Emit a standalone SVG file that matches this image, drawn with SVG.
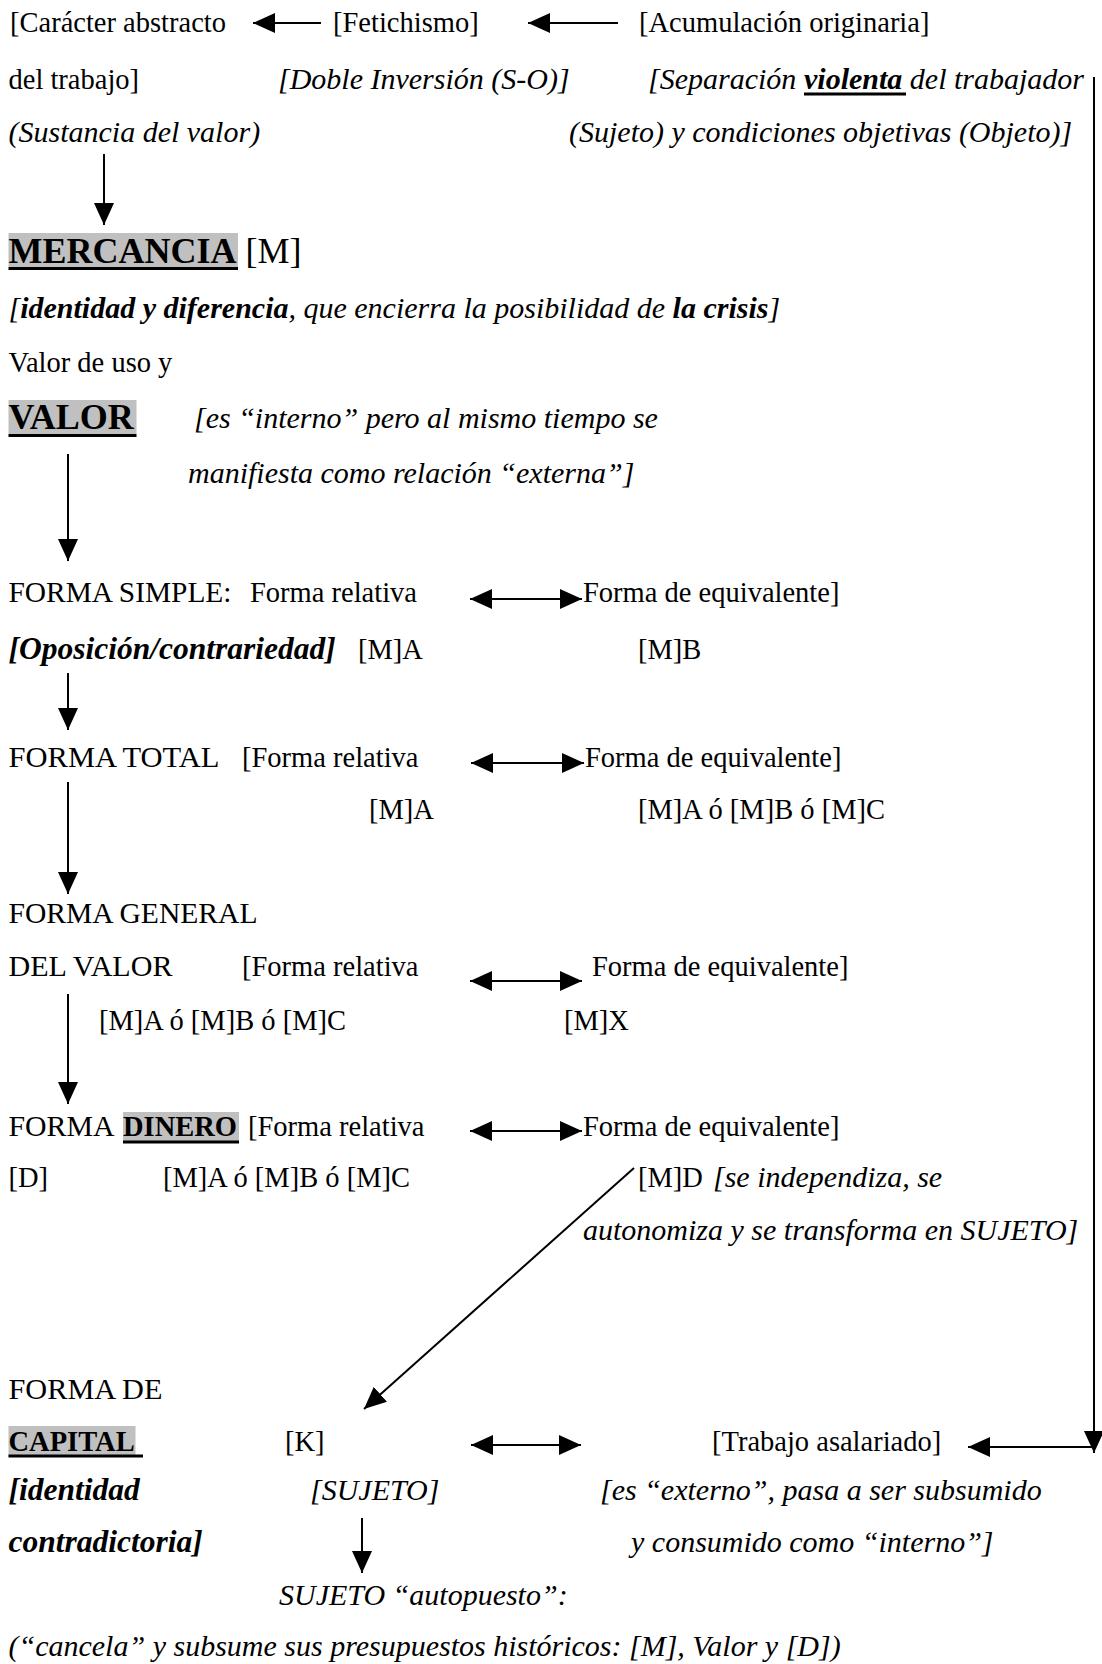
<svg xmlns="http://www.w3.org/2000/svg" width="1102" height="1664" viewBox="0 0 1102 1664">
<style>
text { font-family: "Liberation Serif", "Times New Roman", serif; font-size: 28.5px; fill: #000; }
.i { font-style: italic; font-size: 30px; }
.b { font-weight: bold; }
.i.b { font-size: 31.5px; }
.big { font-size: 36px; }
.hl { fill: #c0c0c0; }
.ul { stroke: #000; stroke-width: 3; }
.c { stroke: #000; stroke-width: 2; fill: none; }
.a { marker-end: url(#ah); }
.d { marker-start: url(#ah); marker-end: url(#ah); }
</style>
<defs>
<marker id="ah" viewBox="0 0 22 20" refX="22" refY="10" markerWidth="22" markerHeight="20" markerUnits="userSpaceOnUse" orient="auto-start-reverse">
<path d="M0,0 L22,10 L0,20 z" fill="#000"/>
</marker>
</defs>
<rect width="1102" height="1664" fill="#fff"/>

<g id="connectors">
<line class="c a" x1="321" y1="23" x2="253" y2="23"/>
<line class="c a" x1="618" y1="23" x2="528" y2="23"/>
<line class="c a" x1="1094" y1="77" x2="1094" y2="1453"/>
<line class="c a" x1="1094" y1="1447" x2="968" y2="1447"/>
<line class="c a" x1="104" y1="154" x2="104" y2="225"/>
<line class="c a" x1="68" y1="454" x2="68" y2="561"/>
<line class="c d" x1="470" y1="599" x2="582" y2="599"/>
<line class="c a" x1="68" y1="673" x2="68" y2="730"/>
<line class="c d" x1="471" y1="763" x2="584" y2="763"/>
<line class="c a" x1="68" y1="782" x2="68" y2="894"/>
<line class="c d" x1="470" y1="981" x2="582" y2="981"/>
<line class="c a" x1="68" y1="994" x2="68" y2="1104"/>
<line class="c d" x1="470" y1="1131" x2="582" y2="1131"/>
<line class="c a" x1="634" y1="1168" x2="364" y2="1409"/>
<line class="c d" x1="471" y1="1445" x2="581" y2="1445"/>
<line class="c a" x1="362" y1="1518" x2="362" y2="1573"/>
</g>

<g id="caracter-abstracto">
<text x="10" y="32">[Carácter abstracto</text>
<text x="8.5" y="89">del trabajo]</text>
<text class="i" x="8.5" y="142">(Sustancia del valor)</text>
</g>
<g id="fetichismo">
<text x="333" y="32">[Fetichismo]</text>
<text class="i" x="278" y="89">[Doble Inversión (S-O)]</text>
</g>
<g id="acumulacion">
<text x="639" y="32">[Acumulación originaria]</text>
<text class="i" x="648" y="89">[Separación <tspan class="b" x="804">violenta</tspan> del trabajador</text>
<line class="ul" x1="804" y1="94" x2="906" y2="94"/>
<text class="i" x="569" y="142">(Sujeto) y condiciones objetivas (Objeto)]</text>
</g>

<g id="mercancia">
<rect class="hl" x="8.5" y="233" width="229.5" height="34"/>
<line class="ul" x1="8.5" y1="268.5" x2="238" y2="268.5"/>
<text class="big" x="8.5" y="263"><tspan class="b">MERCANCIA</tspan> [M]</text>
<text class="i" x="8.5" y="318">[<tspan class="b">identidad y diferencia</tspan>, que encierra la posibilidad de <tspan class="b">la crisis</tspan>]</text>
<text x="8.5" y="372">Valor de uso y</text>
</g>

<g id="valor">
<rect class="hl" x="8.5" y="400" width="128" height="34"/>
<line class="ul" x1="8.5" y1="435.5" x2="136.5" y2="435.5"/>
<text class="big b" x="8.5" y="429">VALOR</text>
<text class="i" x="194" y="428">[es “interno” pero al mismo tiempo se</text>
<text class="i" x="188" y="483">manifiesta como relación “externa”]</text>
</g>

<g id="forma-simple">
<text x="8.5" y="602" textLength="223" lengthAdjust="spacingAndGlyphs">FORMA SIMPLE:</text>
<text x="250" y="602">Forma relativa</text>
<text x="583" y="602">Forma de equivalente]</text>
<text class="i b" x="8.5" y="659">[Oposición/contrariedad]</text>
<text x="358" y="659">[M]A</text>
<text x="638" y="659">[M]B</text>
</g>

<g id="forma-total">
<text x="8.5" y="767" textLength="211" lengthAdjust="spacingAndGlyphs">FORMA TOTAL</text>
<text x="242" y="767">[Forma relativa</text>
<text x="585" y="767">Forma de equivalente]</text>
<text x="369" y="819">[M]A</text>
<text x="638" y="819">[M]A ó [M]B ó [M]C</text>
</g>

<g id="forma-general">
<text x="8.5" y="923" textLength="249" lengthAdjust="spacingAndGlyphs">FORMA GENERAL</text>
<text x="8.5" y="976" textLength="164" lengthAdjust="spacingAndGlyphs">DEL VALOR</text>
<text x="242" y="976">[Forma relativa</text>
<text x="592" y="976">Forma de equivalente]</text>
<text x="99" y="1030">[M]A ó [M]B ó [M]C</text>
<text x="564" y="1030">[M]X</text>
</g>

<g id="forma-dinero">
<rect class="hl" x="123" y="1112" width="116" height="31"/>
<line class="ul" x1="123" y1="1142" x2="239" y2="1142"/>
<text x="8.5" y="1136" textLength="106" lengthAdjust="spacingAndGlyphs">FORMA</text>
<text class="b" x="123" y="1136">DINERO</text>
<text x="248" y="1136">[Forma relativa</text>
<text x="583" y="1136">Forma de equivalente]</text>
<text x="8.5" y="1187">[D]</text>
<text x="163" y="1187">[M]A ó [M]B ó [M]C</text>
<text x="638" y="1187">[M]D</text>
<text class="i" x="713" y="1187">[se independiza, se</text>
<text class="i" x="583" y="1240">autonomiza y se transforma en SUJETO]</text>
</g>

<g id="forma-capital">
<rect class="hl" x="8.5" y="1426" width="127" height="31"/>
<line class="ul" x1="8.5" y1="1456" x2="143" y2="1456"/>
<text x="8.5" y="1399" textLength="154" lengthAdjust="spacingAndGlyphs">FORMA DE</text>
<text class="b" x="8.5" y="1451">CAPITAL</text>
<text x="285" y="1451">[K]</text>
<text class="i b" x="8.5" y="1500">[identidad</text>
<text class="i b" x="8.5" y="1552">contradictoria]</text>
<text class="i" x="310" y="1500">[SUJETO]</text>
</g>

<g id="trabajo-asalariado">
<text x="712" y="1451">[Trabajo asalariado]</text>
<text class="i" x="600" y="1500">[es “externo”, pasa a ser subsumido</text>
<text class="i" x="631" y="1552">y consumido como “interno”]</text>
</g>

<g id="sujeto-autopuesto">
<text class="i" x="279" y="1605">SUJETO “autopuesto”:</text>
<text class="i" x="8.5" y="1656">(“cancela” y subsume sus presupuestos históricos: [M], Valor y [D])</text>
</g>
</svg>
